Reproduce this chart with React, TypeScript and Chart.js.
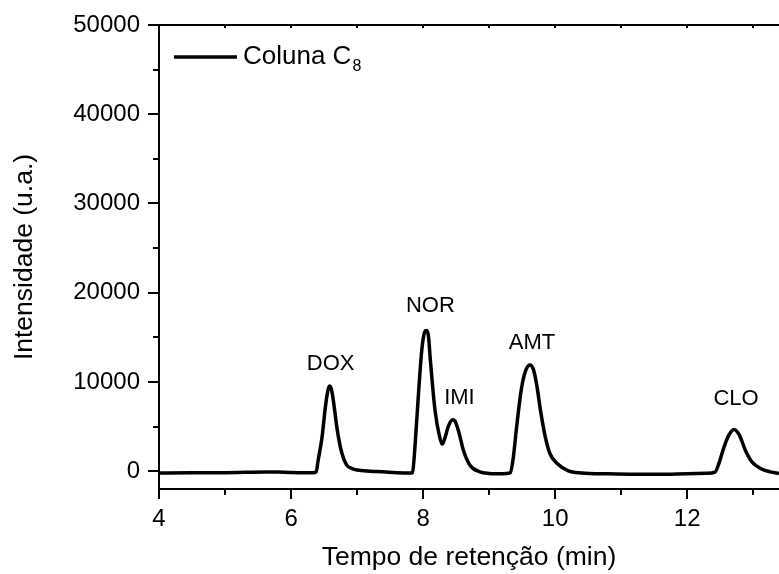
import { useEffect, useRef } from "react";
import { Chart, registerables } from "chart.js";

Chart.register(...registerables);

// Chromatogram (retention time in min, intensity in a.u.)
const retentionTime = [
  4.0, 4.5, 5.0, 5.3, 5.6, 5.8, 6.0, 6.2, 6.33, 6.38, 6.41, 6.47, 6.52, 6.56, 6.585, 6.61, 6.64, 6.7, 6.77, 6.84,
  6.92, 7.0, 7.2, 7.4, 7.6, 7.8, 7.84, 7.88, 7.93, 7.98, 8.02, 8.05, 8.08, 8.11, 8.18, 8.25, 8.29, 8.33, 8.38, 8.45,
  8.48, 8.54, 8.61, 8.71, 8.86, 9.0, 9.2, 9.32, 9.36, 9.42, 9.49, 9.56, 9.62, 9.67, 9.72, 9.78, 9.85, 9.92, 10.03, 10.2,
  10.4, 10.8, 11.2, 11.6, 12.0, 12.3, 12.42, 12.48, 12.55, 12.63, 12.71, 12.79, 12.88, 12.98, 13.11, 13.26, 13.39,
];
const intensity = [
  -200, -190, -170, -130, -90, -100, -150, -170, -170, -100, 1200, 3850, 7200, 9100, 9550, 9200, 7950, 4600, 2000, 700,
  300, 120, 0, -80, -180, -220, -150, 3100, 8700, 13560, 15500, 15750, 15200, 12440, 6840, 3850, 3030, 3700, 5000, 5750,
  5650, 4400, 2350, 670, -80, -250, -300, -200, 1200, 5200, 9300, 11400, 11900, 11400, 9700, 6700, 3850, 1980, 860, 30,
  -200, -300, -350, -350, -280, -230, -100, 860, 2540, 4040, 4670, 4040, 2350, 1040, 300, -80, -260,
];

const xMajorTicks = [4, 6, 8, 10, 12];
const xMinorTicks = [5, 7, 9, 11, 13];
const yMajorTicks = [0, 10000, 20000, 30000, 40000, 50000];
const yMinorTicks = [5000, 15000, 25000, 35000, 45000];

const peakNames = ["DOX", "NOR", "IMI", "AMT", "CLO"];
const peakLabelX = [6.6, 8.11, 8.55, 9.65, 12.74];
const peakLabelY = [12030, 18460, 8260, 14380, 8070];

const legendText = "Coluna C";
const legendSub = "8";
const xTitle = "Tempo de retenção (min)";
const yTitle = "Intensidade (u.a.)";

const FONT = "'Liberation Sans', Arial, sans-serif";

const decorPlugin = {
  id: "decor",
  afterDraw(chart: any) {
    const { ctx, chartArea } = chart;
    const xs = chart.scales.x;
    const ys = chart.scales.y;
    ctx.save();
    ctx.strokeStyle = "#000";
    ctx.lineWidth = 2;
    // top frame line
    ctx.beginPath();
    ctx.moveTo(chartArea.left - 1, chartArea.top);
    ctx.lineTo(chartArea.right, chartArea.top);
    ctx.stroke();
    // x ticks
    const xt = (v: number, len: number, inner: number) => {
      const px = Math.round(xs.getPixelForValue(v));
      ctx.beginPath();
      ctx.moveTo(px, chartArea.bottom);
      ctx.lineTo(px, chartArea.bottom + len);
      ctx.stroke();
      if (inner > 0) {
        ctx.beginPath();
        ctx.moveTo(px, chartArea.top);
        ctx.lineTo(px, chartArea.top + inner);
        ctx.stroke();
      }
    };
    xMajorTicks.forEach((v) => xt(v, 10, 3));
    xMinorTicks.forEach((v) => xt(v, 6, 3));
    const yt = (v: number, len: number) => {
      const py = Math.round(ys.getPixelForValue(v));
      ctx.beginPath();
      ctx.moveTo(chartArea.left, py);
      ctx.lineTo(chartArea.left - len, py);
      ctx.stroke();
    };
    yMajorTicks.forEach((v) => yt(v, 11));
    yMinorTicks.forEach((v) => yt(v, 6));

    // peak labels
    ctx.fillStyle = "#000";
    ctx.font = `22px ${FONT}`;
    ctx.textAlign = "center";
    ctx.textBaseline = "middle";
    peakNames.forEach((n, i) => {
      ctx.fillText(n, xs.getPixelForValue(peakLabelX[i]), ys.getPixelForValue(peakLabelY[i]));
    });

    // legend
    const ly = chartArea.top + 32;
    ctx.lineWidth = 3.5;
    ctx.beginPath();
    ctx.moveTo(chartArea.left + 15, ly);
    ctx.lineTo(chartArea.left + 78, ly);
    ctx.stroke();
    ctx.textAlign = "left";
    ctx.font = `26px ${FONT}`;
    const tx = chartArea.left + 84;
    ctx.fillText(legendText, tx, ly);
    const w = ctx.measureText(legendText).width;
    ctx.font = `16px ${FONT}`;
    ctx.fillText(legendSub, tx + w + 1, ly + 10);
    ctx.restore();
  },
};

export default function App() {
  const ref = useRef<HTMLCanvasElement | null>(null);
  useEffect(() => {
    if (!ref.current) return;
    const data = retentionTime.map((t, i) => ({ x: t, y: intensity[i] }));
    const chart = new Chart(ref.current, {
      type: "line",
      data: {
        datasets: [
          {
            label: legendText + legendSub,
            data,
            borderColor: "#000",
            borderWidth: 3.5,
            pointRadius: 0,
            cubicInterpolationMode: "monotone",
            fill: false,
          },
        ],
      },
      options: {
        animation: false,
        responsive: false,
        layout: { padding: { top: 25, right: 0, left: 0, bottom: 0 } },
        plugins: { legend: { display: false }, tooltip: { enabled: false } },
        scales: {
          x: {
            type: "linear",
            min: 4,
            max: 13.39,
            afterFit: (s: any) => {
              s.height = 85;
              s.paddingLeft = 0;
              s.paddingRight = 0;
            },
            afterBuildTicks: (s: any) => {
              s.ticks = xMajorTicks.map((v) => ({ value: v }));
            },
            grid: { display: false, drawTicks: false },
            border: { display: true, color: "#000", width: 2 },
            ticks: {
              color: "#000",
              font: { family: FONT, size: 24 },
              padding: 16,
              maxRotation: 0,
              autoSkip: false,
            },
            title: {
              display: true,
              text: xTitle,
              color: "#000",
              font: { family: FONT, size: 26.5 },
              padding: { top: 0, bottom: 0 },
            },
          },
          y: {
            type: "linear",
            min: -2000,
            max: 50000,
            afterFit: (s: any) => {
              s.width = 159;
              s.paddingTop = 0;
              s.paddingBottom = 0;
            },
            afterBuildTicks: (s: any) => {
              s.ticks = yMajorTicks.map((v) => ({ value: v }));
            },
            grid: { display: false, drawTicks: false },
            border: { display: true, color: "#000", width: 2 },
            ticks: {
              color: "#000",
              font: { family: FONT, size: 24 },
              padding: 19,
              autoSkip: false,
              callback: (v: any) => String(v),
            },
            title: {
              display: true,
              text: yTitle,
              color: "#000",
              font: { family: FONT, size: 26.5 },
              padding: { top: 9, bottom: 0 },
            },
          },
        },
      },
      plugins: [decorPlugin],
    });
    return () => chart.destroy();
  }, []);
  return (
    <div style={{ position: "fixed", left: 0, top: 0, width: 779, height: 574, background: "#fff" }}>
      <canvas ref={ref} width={779} height={574} />
    </div>
  );
}
